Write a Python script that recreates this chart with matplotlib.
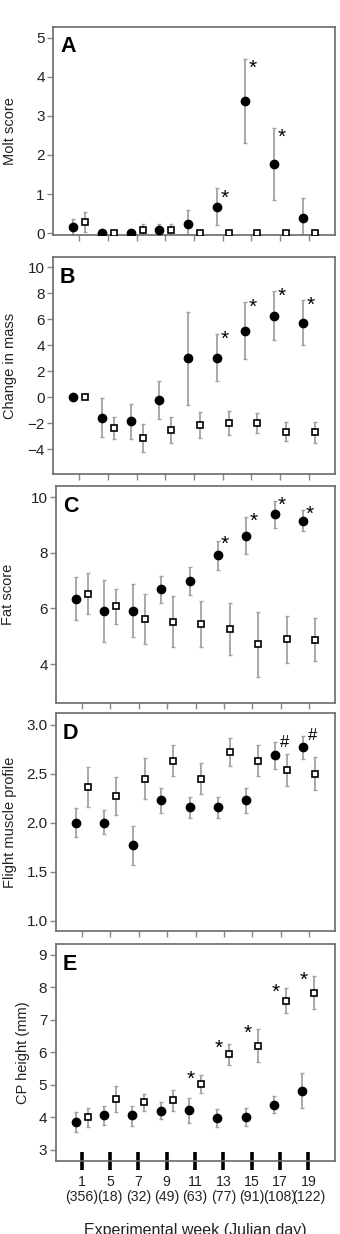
import numpy as np
import matplotlib.pyplot as plt

plt.rcParams['font.family'] = ['Liberation Sans', 'DejaVu Sans']

# Semanas experimentales y dia juliano
weeks = ['1', '5', '7', '9', '11', '13', '15', '17', '19']
julian = ['356', '18', '32', '49', '63', '77', '91', '108', '122']

# A - Molt score (circulos rellenos / cuadrados abiertos)
molt_fill = [0.15, 0.0, 0.0, 0.07, 0.24, 0.68, 3.38, 1.76, 0.38]
molt_fill_lo = [-0.07, 0.0, 0.0, -0.09, -0.12, 0.21, 2.31, 0.85, -0.15]
molt_fill_hi = [0.36, 0.0, 0.0, 0.24, 0.60, 1.15, 4.46, 2.69, 0.91]
molt_open = [0.29, 0.0, 0.07, 0.07, 0.0, 0.0, 0.0, 0.0, 0.0]
molt_open_lo = [0.02, 0.0, -0.09, -0.09, 0.0, 0.0, 0.0, 0.0, 0.0]
molt_open_hi = [0.55, 0.0, 0.24, 0.24, 0.0, 0.0, 0.0, 0.0, 0.0]

# B - Change in mass
mass_fill = [0.0, -1.60, -1.85, -0.21, 2.99, 2.99, 5.11, 6.29, 5.73]
mass_fill_lo = [0.0, -3.08, -3.18, -1.70, -0.57, 1.22, 2.94, 4.39, 3.99]
mass_fill_hi = [0.0, -0.06, -0.52, 1.27, 6.54, 4.86, 7.31, 8.18, 7.49]
mass_open = [0.0, -2.36, -3.13, -2.52, -2.16, -2.00, -2.00, -2.64, -2.69]
mass_open_lo = [0.0, -3.20, -4.23, -3.54, -3.13, -2.87, -2.77, -3.39, -3.51]
mass_open_hi = [0.0, -1.52, -2.06, -1.49, -1.13, -1.08, -1.18, -1.90, -1.88]

# C - Fat score
fat_fill = [6.34, 5.89, 5.89, 6.69, 6.99, 7.91, 8.61, 9.38, 9.15]
fat_fill_lo = [5.57, 4.78, 4.96, 6.21, 6.47, 7.38, 7.94, 8.90, 8.78]
fat_fill_hi = [7.12, 7.02, 6.87, 7.15, 7.50, 8.44, 9.28, 9.87, 9.53]
fat_open = [6.53, 6.07, 5.62, 5.52, 5.44, 5.26, 4.71, 4.89, 4.87]
fat_open_lo = [5.81, 5.44, 4.71, 4.62, 4.60, 4.31, 3.52, 4.05, 4.11]
fat_open_hi = [7.26, 6.70, 6.53, 6.43, 6.28, 6.21, 5.88, 5.73, 5.64]

# D - Flight muscle profile
fm_fill = [2.00, 2.00, 1.77, 2.23, 2.16, 2.16, 2.23, 2.69, 2.77]
fm_fill_lo = [1.85, 1.88, 1.57, 2.10, 2.05, 2.05, 2.10, 2.55, 2.65]
fm_fill_hi = [2.15, 2.13, 1.97, 2.35, 2.26, 2.26, 2.35, 2.82, 2.89]
fm_open = [2.36, 2.27, 2.45, 2.63, 2.45, 2.72, 2.63, 2.54, 2.50]
fm_open_lo = [2.16, 2.08, 2.24, 2.48, 2.29, 2.58, 2.48, 2.38, 2.33]
fm_open_hi = [2.57, 2.47, 2.66, 2.79, 2.61, 2.86, 2.79, 2.70, 2.67]

# E - CP height (mm)
cp_fill = [3.86, 4.06, 4.06, 4.21, 4.22, 3.98, 4.02, 4.39, 4.81]
cp_fill_lo = [3.54, 3.77, 3.75, 3.95, 3.83, 3.71, 3.74, 4.15, 4.30]
cp_fill_hi = [4.18, 4.34, 4.35, 4.46, 4.61, 4.27, 4.30, 4.66, 5.36]
cp_open = [4.00, 4.56, 4.47, 4.52, 5.03, 5.94, 6.20, 7.59, 7.83]
cp_open_lo = [3.69, 4.18, 4.21, 4.19, 4.75, 5.61, 5.69, 7.20, 7.33]
cp_open_hi = [4.30, 4.95, 4.71, 4.84, 5.31, 6.26, 6.71, 7.98, 8.34]

W, H = 340, 1234
fig = plt.figure(figsize=(W / 100, H / 100), dpi=100)

x = np.arange(1, 10)
off = 0.21
err_col = '#a3a3a3'
spine_col = '#6a6a6a'


def make_axes(left, right, top, bottom):
    return fig.add_axes([left / W, 1 - bottom / H, (right - left) / W, (bottom - top) / H])


def draw(ax, f, flo, fhi, o, olo, ohi):
    f, flo, fhi = np.array(f), np.array(flo), np.array(fhi)
    o, olo, ohi = np.array(o), np.array(olo), np.array(ohi)
    ax.errorbar(x - off, f, yerr=[f - flo, fhi - f], fmt='none', ecolor=err_col,
                elinewidth=1.3, capsize=1.6, capthick=1.0, zorder=2)
    ax.errorbar(x + off, o, yerr=[o - olo, ohi - o], fmt='none', ecolor=err_col,
                elinewidth=1.3, capsize=1.6, capthick=1.0, zorder=2)
    ax.plot(x - off, f, 'o', color='black', ms=6, zorder=3)
    ax.plot(x + off, o, 's', mfc='white', mec='black', mew=1.2, ms=5, zorder=3)


def style(ax, ylim, yticks, ylabels, ylabel, letter, label_right):
    ax.set_xlim(0.08, 9.92)
    ax.set_ylim(*ylim)
    ax.set_yticks(yticks)
    ax.set_yticklabels(ylabels)
    ax.set_xticks(x)
    ax.set_xticklabels([])
    for s in ax.spines.values():
        s.set_color(spine_col)
        s.set_linewidth(1.2)
    ax.tick_params(axis='both', direction='out', length=4, width=1, color='#888888',
                   labelsize=11, labelcolor='#222222', pad=2)
    ax.set_ylabel(ylabel, fontsize=10.5, color='#222222')
    pos = ax.get_position()
    ax.yaxis.set_label_coords((label_right / W - pos.x0) / pos.width, 0.5)
    ax.text(0.025, 0.955, letter, transform=ax.transAxes, fontsize=15.5,
            fontweight='bold', va='top', ha='left')


def marks(ax, vals, idx, sym, dx, dy, fs=15):
    # marcas de significancia junto al extremo superior del error
    for i in idx:
        ax.annotate(sym, (x[i], vals[i]), xytext=(dx, dy),
                    textcoords='offset points', ha='center', va='center', fontsize=fs)


# Panel A
axA = make_axes(53, 335, 27, 235)
draw(axA, molt_fill, molt_fill_lo, molt_fill_hi, molt_open, molt_open_lo, molt_open_hi)
style(axA, (-0.05, 5.28), range(0, 6), [str(v) for v in range(0, 6)], 'Molt score', 'A', 17)
marks(axA, molt_fill_hi, [5, 6, 7], '*', -off * 20.6 + 5.5, -7)

# Panel B
axB = make_axes(53, 335, 257, 474)
draw(axB, mass_fill, mass_fill_lo, mass_fill_hi, mass_open, mass_open_lo, mass_open_hi)
style(axB, (-5.9, 10.8), range(-4, 11, 2), ['\u22124', '\u22122', '0', '2', '4', '6', '8', '10'],
      'Change in mass', 'B', 17)
marks(axB, mass_fill_hi, [5, 6, 7, 8], '*', -off * 20.6 + 5.5, -3.5)

# Panel C
axC = make_axes(56, 335, 486, 703)
draw(axC, fat_fill, fat_fill_lo, fat_fill_hi, fat_open, fat_open_lo, fat_open_hi)
style(axC, (2.6, 10.4), [4, 6, 8, 10], ['4', '6', '8', '10'], 'Fat score', 'C', 15)
marks(axC, fat_fill_hi, [5, 6, 7, 8], '*', -off * 20.4 + 5, -3)

# Panel D
axD = make_axes(56, 335, 713, 931)
draw(axD, fm_fill, fm_fill_lo, fm_fill_hi, fm_open, fm_open_lo, fm_open_hi)
style(axD, (0.895, 3.12), [1.0, 1.5, 2.0, 2.5, 3.0], ['1.0', '1.5', '2.0', '2.5', '3.0'],
      'Flight muscle profile', 'D', 17)
marks(axD, fm_fill_hi, [7, 8], '#', -off * 20.4 + 7, 0, fs=12)

# Panel E
axE = make_axes(55.5, 334.5, 944, 1161)
draw(axE, cp_fill, cp_fill_lo, cp_fill_hi, cp_open, cp_open_lo, cp_open_hi)
style(axE, (2.66, 9.33), range(3, 10), [str(v) for v in range(3, 10)], 'CP height (mm)', 'E', 30)
marks(axE, cp_open_hi, [4, 5, 6, 7, 8], '*', off * 20.4 - 7.5, -3)

axE.set_xticklabels([w + '\n(' + j + ')' for w, j in zip(weeks, julian)], linespacing=1.15)
axE.tick_params(axis='x', direction='inout', length=13.5, width=2.6, color='black',
                labelsize=10.2, pad=3)
axE.set_xlabel('Experimental week (Julian day)', fontsize=11.5, color='#222222')
axE.xaxis.set_label_coords(0.5, -0.339)
axE.xaxis.label.set_va('baseline')

fig.savefig('out.png', dpi=100)
